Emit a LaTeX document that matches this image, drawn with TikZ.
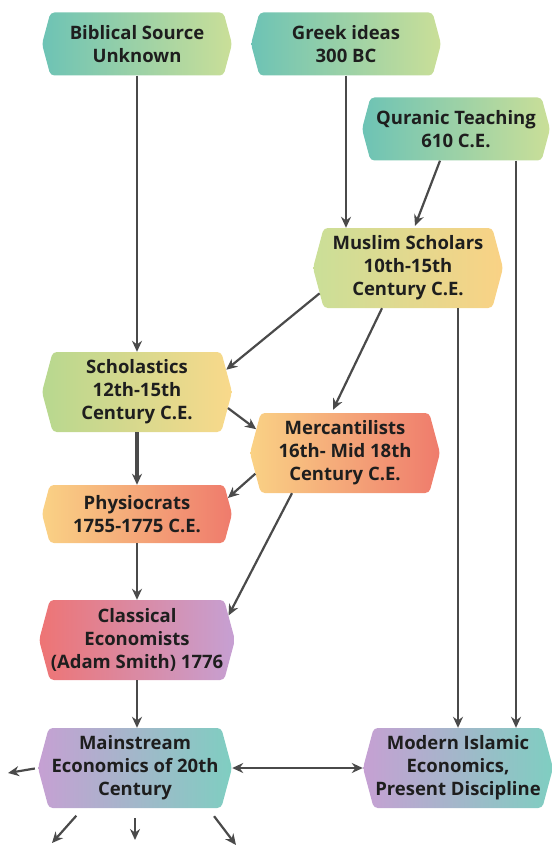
\documentclass[tikz,border=0pt]{standalone}
\usepackage{fontspec}
\setsansfont{Open Sans}
\usetikzlibrary{shapes.symbols,arrows.meta,calc}

\definecolor{tealc}{HTML}{6DC3B5}
\definecolor{lgreen}{HTML}{CADF98}
\definecolor{greenc}{HTML}{B7D88F}
\definecolor{yellowc}{HTML}{F9D98B}
\definecolor{orangec}{HTML}{FAD285}
\definecolor{salmon}{HTML}{EF7B6C}
\definecolor{redc}{HTML}{EE7474}
\definecolor{lilac}{HTML}{C6A0D3}
\definecolor{aqua}{HTML}{7FCEC1}
\definecolor{linec}{HTML}{4A4A4A}
\definecolor{txt}{HTML}{1E1E1E}

\tikzset{
  stage/.style={signal, signal to=west and east, signal pointer angle=150,
    rounded corners=4pt, minimum width=190pt, minimum height=80pt,
    inner sep=1pt, align=center, text=txt,
    font=\sffamily\bfseries\fontsize{18.5}{23}\selectfont},
  link/.style={draw=linec, line width=2.2pt, -{Stealth[length=11pt,width=10pt]}},
}

\begin{document}
\begin{tikzpicture}[x=1pt, y=-1pt]
    \useasboundingbox (0,0) rectangle (552,845);

    % sources
    \node[stage, minimum height=63pt, left color=tealc, right color=lgreen] (bib) at (137,44) {Biblical Source\\Unknown};
    \node[stage, minimum height=63pt, left color=tealc, right color=lgreen] (greek) at (346,44) {Greek ideas\\300 BC};
    \node[stage, minimum height=63pt, minimum width=188pt, left color=tealc, right color=lgreen] (quran) at (456,129) {Quranic Teaching\\610 C.E.};

    % middle ages
    \node[stage, left color=lgreen, right color=orangec] (mus) at (408,268) {Muslim Scholars\\10th-15th\\Century C.E.};
    \node[stage, left color=greenc, right color=yellowc] (schol) at (137,392) {Scholastics\\12th-15th\\Century C.E.};
    \node[stage, left color=orangec, right color=salmon] (merc) at (345,453) {Mercantilists\\16th- Mid 18th\\Century C.E.};
    \node[stage, minimum height=58pt, left color=orangec, right color=salmon] (phys) at (137,514) {Physiocrats\\1755-1775 C.E.};
    \node[stage, left color=redc, right color=lilac] (class) at (137,640) {Classical\\Economists\\(Adam Smith) 1776};

    % today
    \node[stage, minimum width=194pt, left color=lilac, right color=aqua] (main) at (135,768) {Mainstream\\Economics of 20th\\Century};
    \node[stage, left color=lilac, right color=aqua] (modern) at (458,768) {Modern Islamic\\Economics,\\Present Discipline};

    \coordinate (q2) at ($(quran.south)+(60,0)$);
    \coordinate (out1) at (8,773);
    \coordinate (out2) at (52,843);
    \coordinate (out3) at (135,840);
    \coordinate (out4) at (236,845);

    \draw[link] (bib.south) -- (schol.north);
    \draw[link] (greek.south) -- (greek.south |- mus.north);
    \draw[link] ($(quran.south)+(-16,0)$) -- ($(mus.north)+(7,-2)$);
    \draw[link] (q2) -- (q2 |- modern.north);
    \draw[link] (mus.196) -- (schol.14);
    \draw[link] ($(mus.south)+(-26,0)$) -- ($(merc.north)+(-12,-3)$);
    \draw[link] (mus.south -| modern.north) -- (modern.north);
    \draw[link] (schol.-10) -- (merc.165);
    \draw[link, line width=3.8pt] (schol.south) -- (phys.north);
    \draw[link] (merc.193) -- (phys.10);
    \draw[link] ($(merc.south)+(-53,0)$) -- (class.15);
    \draw[link] (phys.south) -- (class.north);
    \draw[link] (class.south) -- (class.south |- main.north);
    \draw[link, {Stealth[length=11pt,width=10pt]}-{Stealth[length=11pt,width=10pt]}] (main.east) -- (modern.west);

    \draw[link, shorten <=3pt] (main.west) -- (out1);
    \draw[link, shorten <=10pt] ($(main.south)+(-52,0)$) -- (out2);
    \draw[link, shorten <=10pt] (main.south) -- (out3);
    \draw[link, shorten <=10pt] ($(main.south)+(73,0)$) -- (out4);
\end{tikzpicture}
\end{document}
